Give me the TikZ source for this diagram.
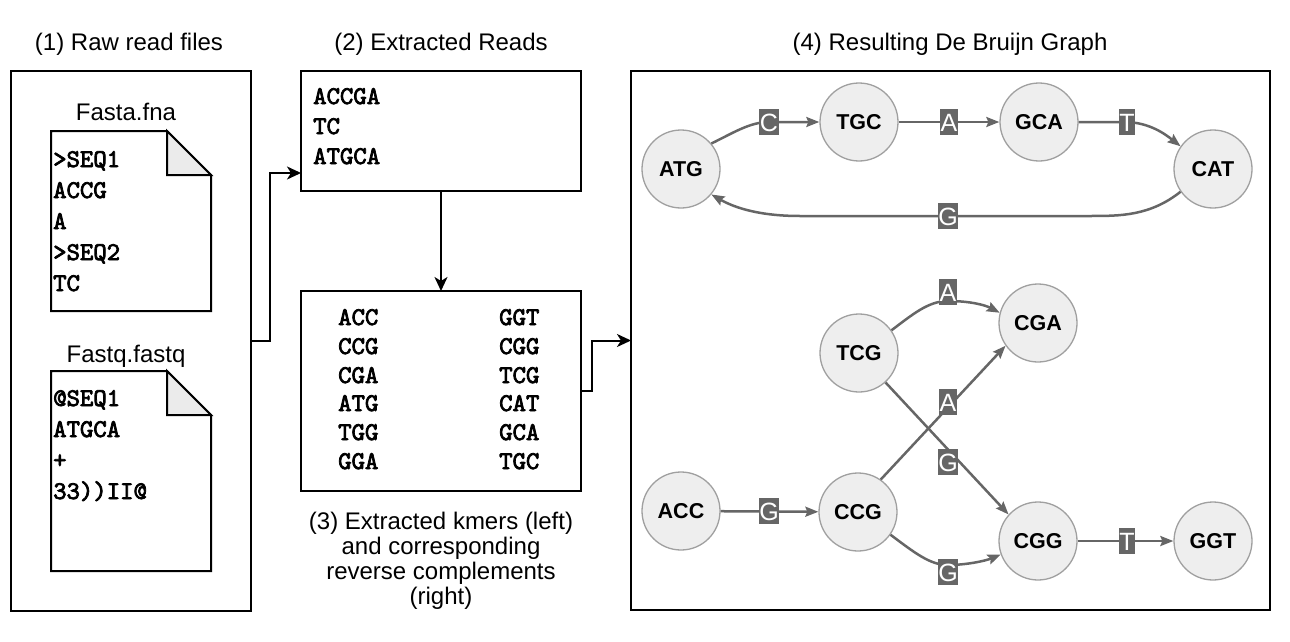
\documentclass[tikz,border=0pt]{standalone}
\usepackage{fontspec}
\setmainfont{Liberation Sans}
\newfontfamily\codefont{lmmono10-regular.otf}[FakeBold=3]
\usetikzlibrary{arrows.meta}
\definecolor{edgegray}{HTML}{666666}
\definecolor{nodefill}{HTML}{EEEEEE}
\definecolor{nodeline}{HTML}{A0A0A0}
\definecolor{foldgray}{HTML}{EBEBEB}
\begin{document}
\begin{tikzpicture}[x=1pt,y=-1pt,
  panel/.style={draw=black,line width=2pt,inner sep=0pt,outer sep=0pt,anchor=north west},
  ttl/.style={inner sep=0pt,font=\fontsize{24}{26}\selectfont},
  seqtxt/.style={inner sep=0pt,anchor=base west,font=\fontsize{25.5}{28}\codefont},
  docline/.style={draw=black,line width=2pt,line join=miter},
  gnode/.style={circle,draw=nodeline,fill=nodefill,line width=1.3pt,minimum size=78pt,inner sep=0pt,font=\fontsize{21.5}{24}\selectfont\bfseries},
  lbl/.style={fill=edgegray,text=white,inner xsep=0.5pt,inner ysep=0pt,text height=18pt,text depth=0pt,minimum height=26pt,font=\fontsize{25}{25}\selectfont},
  gedge/.style={draw=edgegray,line width=2.5pt,-{Stealth[length=13pt,width=10pt,inset=2pt]}},
  flowarrow/.style={draw=black,line width=2pt,-{Stealth[length=14pt,width=13pt,inset=4pt]}}
]
\useasboundingbox (0,0) rectangle (1290,642);

% panels
\node[panel,minimum width=240pt,minimum height=540pt] (raw) at (11,71) {};
\node[panel,minimum width=280pt,minimum height=120pt] (reads) at (301,71) {};
\node[panel,minimum width=280pt,minimum height=200pt] (kmers) at (301,291) {};
\node[panel,minimum width=639pt,minimum height=539pt] (graph) at (631,71) {};

% titles
\node[ttl,anchor=base] (t1) at (129,51) {(1) Raw read files};
\node[ttl,anchor=base] (t2) at (441,51) {(2) Extracted Reads};
\node[ttl,anchor=base] (t4) at (950,51) {(4) Resulting De Bruijn Graph};
\node[ttl,anchor=base] (c1) at (441,529) {(3) Extracted kmers (left)};
\node[ttl,anchor=base] (c2) at (441,554) {and corresponding};
\node[ttl,anchor=base] (c3) at (441,579) {reverse complements};
\node[ttl,anchor=base] (c4) at (441,604) {(right)};

% documents
\node[ttl,anchor=base] (fna) at (126,120) {Fasta.fna};
\draw[docline,fill=white] (51,131) -- (167,131) -- (211,175) -- (211,311) -- (51,311) -- cycle;
\draw[docline,fill=foldgray] (167,131) -- (167,175) -- (211,175) -- cycle;
\node[seqtxt] (f1) at (53,167) {>SEQ1};
\node[seqtxt] (f2) at (53,198) {ACCG};
\node[seqtxt] (f3) at (53,229) {A};
\node[seqtxt] (f4) at (53,260) {>SEQ2};
\node[seqtxt] (f5) at (53,291) {TC};

\node[ttl,anchor=base] (fq) at (126,362) {Fastq.fastq};
\draw[docline,fill=white] (51,371) -- (167,371) -- (211,415) -- (211,571) -- (51,571) -- cycle;
\draw[docline,fill=foldgray] (167,371) -- (167,415) -- (211,415) -- cycle;
\node[seqtxt] (q1) at (53,406) {@SEQ1};
\node[seqtxt] (q2) at (53,437) {ATGCA};
\node[seqtxt] (q3) at (53,468) {+};
\node[seqtxt] (q4) at (53,499) {33))II@};

% reads
\node[seqtxt] (r1) at (313,104) {ACCGA};
\node[seqtxt] (r2) at (313,134) {TC};
\node[seqtxt] (r3) at (313,164) {ATGCA};

% kmers
\node[seqtxt] (k1) at (338,325) {ACC};
\node[seqtxt] (k2) at (338,354) {CCG};
\node[seqtxt] (k3) at (338,383) {CGA};
\node[seqtxt] (k4) at (338,411) {ATG};
\node[seqtxt] (k5) at (338,440) {TGG};
\node[seqtxt] (k6) at (338,469) {GGA};
\node[seqtxt] (m1) at (499,325) {GGT};
\node[seqtxt] (m2) at (499,354) {CGG};
\node[seqtxt] (m3) at (499,383) {TCG};
\node[seqtxt] (m4) at (499,411) {CAT};
\node[seqtxt] (m5) at (499,440) {GCA};
\node[seqtxt] (m6) at (499,469) {TGC};

% flow arrows
\coordinate (in2) at (301,173);
\draw[flowarrow] (raw.east) -- ++(19,0) |- (in2);
\draw[flowarrow] (reads.south) -- (kmers.north);
\draw[flowarrow] (kmers.east) -- ++(11,0) |- (graph.west);

% graph nodes
\node[gnode] (ATG) at (681,169) {ATG};
\node[gnode] (TGC) at (859,122) {TGC};
\node[gnode] (GCA) at (1039,122) {GCA};
\node[gnode] (CAT) at (1213,169) {CAT};
\node[gnode] (TCG) at (859,353) {TCG};
\node[gnode] (CGA) at (1038,323) {CGA};
\node[gnode] (ACC) at (681,511) {ACC};
\node[gnode] (CCG) at (858,512) {CCG};
\node[gnode] (CGG) at (1038,541) {CGG};
\node[gnode] (GGT) at (1213,541) {GGT};

% label positions
\coordinate (pC) at (769,122);
\coordinate (pA1) at (949,122);
\coordinate (pT1) at (1127,122);
\coordinate (pG1) at (948,216);
\coordinate (pA2) at (948,292);
\coordinate (pA3) at (948,402);
\coordinate (pG2) at (948,462);
\coordinate (pG3) at (948,572);
\coordinate (pG4) at (769,511);
\coordinate (pT2) at (1127,541);

% graph edges
\draw[gedge] (ATG.40) .. controls (733,133) and (750,122) .. (pC) -- (TGC);
\draw[gedge] (TGC) -- (GCA);
\draw[gedge] (GCA) -- (pT1) .. controls (1150,123) and (1165,134) .. (CAT.145);
\draw[gedge] (CAT.215) .. controls (1150,216) and (1120,216) .. (1090,216) -- (pG1) -- (800,216) .. controls (760,216) and (735,208) .. (ATG.-40);
\draw[gedge] (TCG.35) .. controls (912,315) and (928,301) .. (948,301) .. controls (970,301) and (985,305) .. (CGA.165);
\draw[gedge] (CCG.55) -- (CGA.215);
\draw[gedge] (TCG.-48) -- (CGG.138);
\draw[gedge] (CCG.-35) .. controls (915,553) and (930,565) .. (948,565) .. controls (966,565) and (985,561) .. (CGG.200);
\draw[gedge] (ACC) -- (CCG);
\draw[gedge] (CGG) -- (GGT);

% edge labels
\node[lbl] (lC) at (pC) {C};
\node[lbl] (lA1) at (pA1) {A};
\node[lbl] (lT1) at (pT1) {T};
\node[lbl] (lG1) at (pG1) {G};
\node[lbl] (lA2) at (pA2) {A};
\node[lbl] (lA3) at (pA3) {A};
\node[lbl] (lG2) at (pG2) {G};
\node[lbl] (lG3) at (pG3) {G};
\node[lbl] (lG4) at (pG4) {G};
\node[lbl] (lT2) at (pT2) {T};
\end{tikzpicture}
\end{document}
